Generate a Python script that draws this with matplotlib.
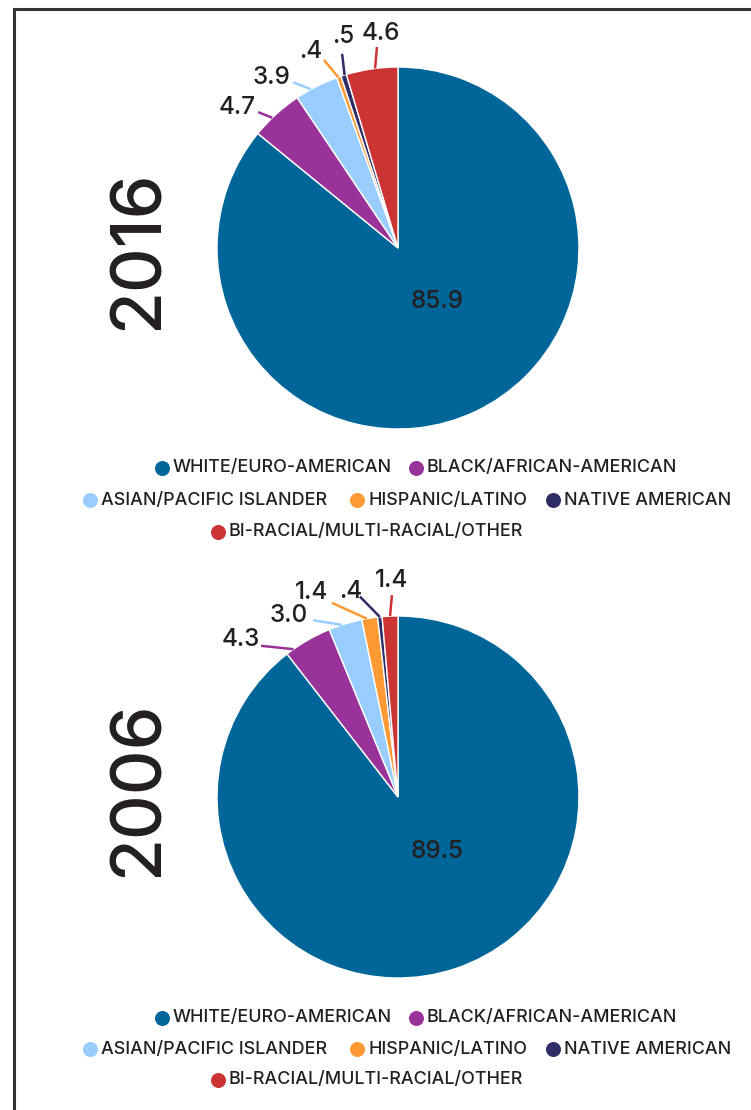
import matplotlib
matplotlib.use("Agg")
import matplotlib.pyplot as plt
import numpy as np
from matplotlib.lines import Line2D

plt.rcParams['font.family'] = ['Inter', 'DejaVu Sans']

# ---- data ----
categories = ["WHITE/EURO-AMERICAN", "BLACK/AFRICAN-AMERICAN", "ASIAN/PACIFIC ISLANDER",
              "HISPANIC/LATINO", "NATIVE AMERICAN", "BI-RACIAL/MULTI-RACIAL/OTHER"]
colors = ["#006699", "#993399", "#99ccff", "#ff9933", "#2e2d66", "#cc3333"]
years = ["2016", "2006"]
values_2016 = [85.9, 4.7, 3.9, 0.4, 0.5, 4.6]
values_2006 = [89.5, 4.3, 3.0, 1.4, 0.4, 1.4]
labels_2016 = ["85.9", "4.7", "3.9", ".4", ".5", "4.6"]
labels_2006 = ["89.5", "4.3", "3.0", "1.4", ".4", "1.4"]

TXT = "#231f20"
W, H = 751, 1110
fig = plt.figure(figsize=(W / 100, H / 100), dpi=100)

R = 181.0       # pie radius in px
LIM = 1.4

# leader layout: (start angle offset, end radius, end angle offset, text dx px, text dy px, ha, va)
leader_2016 = [None,
               (1.7, 1.077, 3.5, -2, 5, "right", "center"),
               (1.9, 1.083, 5.5, -3, 5, "right", "center"),
               (0.2, 1.116, 2.4, -2, 9, "right", "center"),
               (-0.3, 1.116, -1.4, 1, 6, "center", "bottom"),
               (-1.0, 1.116, -2.3, 4, 2, "center", "bottom")]
leader_2006 = [None,
               (5.2, 1.127, 12.1, -1, 6, "right", "center"),
               (1.1, 1.083, 8.7, -5, 5, "right", "center"),
               (0.9, 1.133, 9.8, -4, 10, "right", "center"),
               (0.0, 1.127, 5.0, 2, 5, "right", "center"),
               (0.0, 1.116, -0.8, 0, 3, "center", "bottom")]

pies = [(values_2016, labels_2016, leader_2016, 248, 250),
        (values_2006, labels_2006, leader_2006, 797, 789)]

for (vals, labs, lead, cy, ycy), year in zip(pies, years):
    cx = 398
    side = 2 * LIM * R
    ax = fig.add_axes([(cx - side / 2) / W, (H - cy - side / 2) / H, side / W, side / H])
    wedges, _ = ax.pie(vals, colors=colors, startangle=90, counterclock=False, radius=1,
                       wedgeprops=dict(edgecolor="white", linewidth=1.0))
    ax.set_xlim(-LIM, LIM)
    ax.set_ylim(-LIM, LIM)
    ax.set_aspect("equal")
    ax.axis("off")
    for i, w in enumerate(wedges):
        if lead[i] is None:
            continue
        mid = (w.theta1 + w.theta2) / 2
        sa, er, ea, tdx, tdy, ha, va = lead[i]
        a0 = np.deg2rad(mid + sa)
        a1 = np.deg2rad(mid + ea)
        x0, y0 = np.cos(a0), np.sin(a0)
        x1, y1 = er * np.cos(a1), er * np.sin(a1)
        ax.plot([x0, x1], [y0, y1], color=colors[i], lw=1.8, solid_capstyle="butt", zorder=3)
        ax.text(x1 + tdx / R, y1 + tdy / R, labs[i], ha=ha, va=va, fontsize=17.5,
                fontweight="medium", color=TXT)
    ax.text(39 / R, -54 / R, labs[0], ha="center", va="center", fontsize=17.5,
            fontweight="medium", color=TXT)
    fig.text(139 / W, 1 - ycy / H, year, rotation=90, ha="center", va="center",
             fontsize=50, fontweight="medium", color=TXT)

# ---- legends ----
legend_rows = [[0, 1], [2, 3, 4], [5]]
row_marker_x = [[162, 416], [90, 357, 553], [218]]
legend_y = [[468, 500, 532], [1018, 1049, 1080]]
for ys in legend_y:
    for row, xs, y in zip(legend_rows, row_marker_x, ys):
        for idx, mx in zip(row, xs):
            fig.add_artist(Line2D([mx / W], [1 - y / H], marker="o", markersize=10.8,
                                  color=colors[idx], markeredgewidth=0,
                                  transform=fig.transFigure))
            fig.text((mx + 11) / W, 1 - y / H, categories[idx], ha="left", va="center",
                     fontsize=12.9, fontweight="medium", color=TXT)

# ---- frame (top and left) ----
fig.add_artist(Line2D([14 / W, 1], [1 - 9 / H, 1 - 9 / H], color="#333333", lw=2.2,
                      transform=fig.transFigure))
fig.add_artist(Line2D([14 / W, 14 / W], [0, 1 - 9 / H], color="#333333", lw=2.2,
                      transform=fig.transFigure))

fig.savefig("out.png", dpi=100)
